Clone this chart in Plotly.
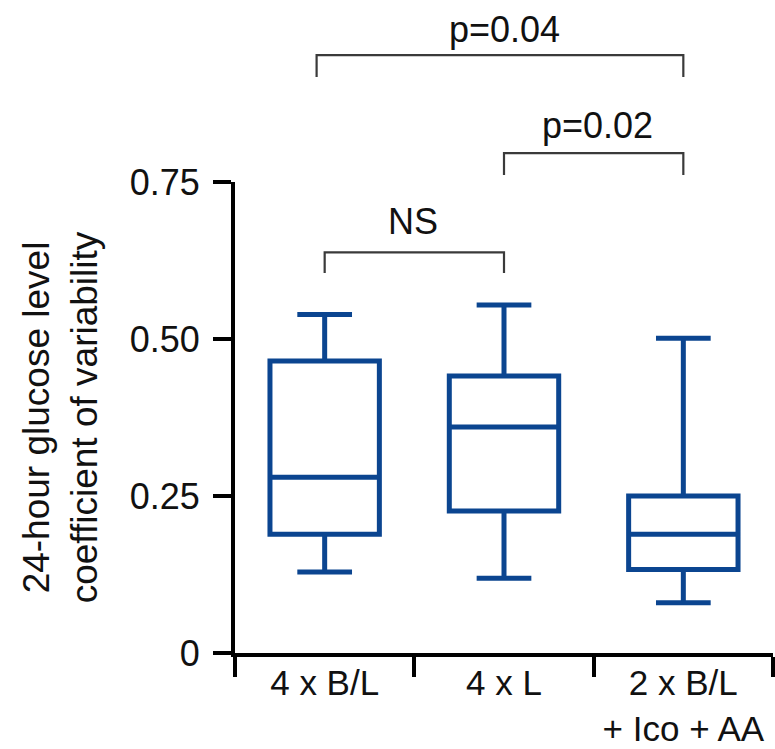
import plotly.graph_objects as go

categories = ["4 x B/L", "4 x L", "2 x B/L<br>+ Ico + AA"]
lower = [0.129, 0.119, 0.080]
q1 = [0.189, 0.226, 0.133]
median = [0.280, 0.360, 0.189]
q3 = [0.465, 0.441, 0.250]
upper = [0.539, 0.554, 0.501]

y_ticks = [0, 0.25, 0.5, 0.75]
y_tick_text = ["0", "0.25", "0.50", "0.75"]

# comparison brackets: (x_start, x_end, y_top, y_bottom, label, label_x, label_y)
brackets = [
    (0.0, 1.0, 0.638, 0.605, "NS", 0.49, 0.687),
    (1.0, 2.0, 0.796, 0.761, "p=0.02", 1.52, 0.840),
    (-0.045, 2.0, 0.952, 0.917, "p=0.04", 1.0, 0.993),
]

YMAX = 0.75
BLUE = "#0B4590"
FONT = "Liberation Sans, Arial, sans-serif"

fig = go.Figure()
fig.add_trace(go.Box(
    x=categories,
    q1=q1, median=median, q3=q3,
    lowerfence=lower, upperfence=upper,
    fillcolor="white",
    line=dict(color=BLUE, width=5),
    width=0.61,
    whiskerwidth=0.5,
    boxpoints=False,
    showlegend=False,
    hoverinfo="skip",
))

for xs, xe, yt, yb, label, lx, ly in brackets:
    fig.add_shape(
        type="path",
        xref="x", yref="paper",
        path=f"M {xs} {yb/YMAX} L {xs} {yt/YMAX} L {xe} {yt/YMAX} L {xe} {yb/YMAX}",
        line=dict(color="#3a3a3a", width=2.2),
    )
    fig.add_annotation(
        x=lx, y=ly / YMAX, xref="x", yref="paper",
        text=label, showarrow=False,
        font=dict(size=36, color="#111111", family=FONT),
        xanchor="center", yanchor="middle",
    )

fig.update_layout(
    width=775, height=749,
    margin=dict(l=235, r=2, t=182, b=96),
    plot_bgcolor="white", paper_bgcolor="white",
    font=dict(family=FONT, size=36, color="#111111"),
)
fig.update_xaxes(
    type="category",
    range=[-0.5, 2.5],
    automargin=False,
    showline=True, linecolor="black", linewidth=4,
    ticks="outside", ticklen=20, tickwidth=4, tickcolor="black",
    tickson="boundaries",
    ticklabelstandoff=-4,
    showgrid=False, zeroline=False,
    tickfont=dict(size=35, family=FONT, color="#111111"),
)
fig.update_yaxes(
    range=[0, YMAX],
    automargin=False,
    tickvals=y_ticks, ticktext=y_tick_text,
    showline=True, linecolor="black", linewidth=4,
    ticks="outside", ticklen=18, tickwidth=4, tickcolor="black",
    showgrid=False, zeroline=False,
    ticklabelstandoff=6,
    tickfont=dict(size=36, family=FONT, color="#111111"),
    title=dict(text="24-hour glucose level<br>coefficient of variability",
               font=dict(size=37, family=FONT, color="#111111"), standoff=22),
)

fig.write_html("out.html")
